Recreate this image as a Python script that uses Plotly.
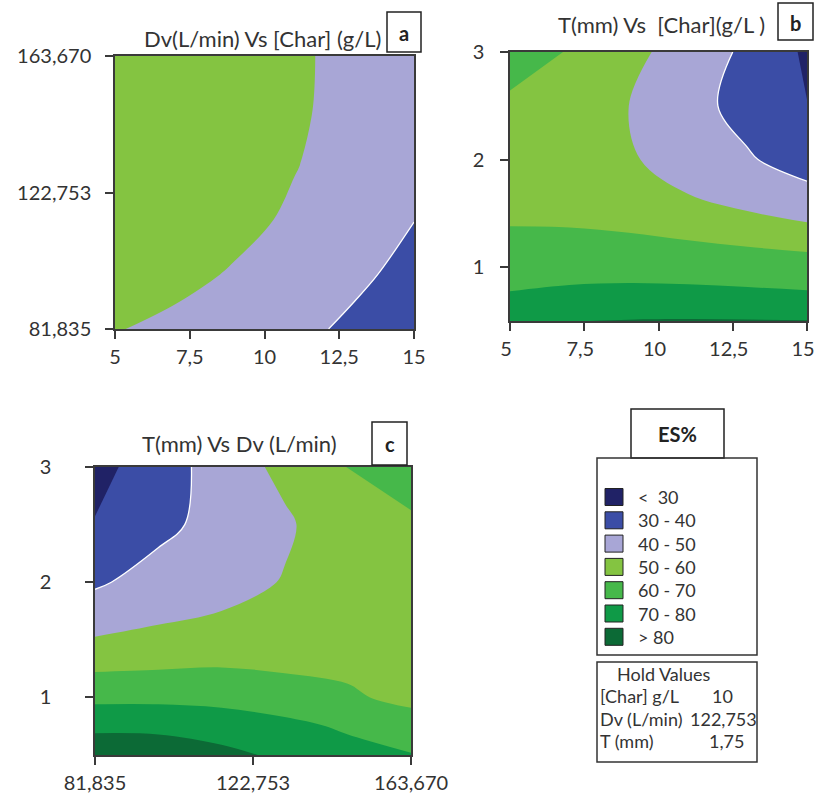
import plotly.graph_objects as go

W, H = 814, 796

# ---------------- data ----------------
char_vals = [5, 7, 9, 11, 13, 15]                                   # [Char] g/L
dv_vals = [81.835, 98.202, 114.569, 130.936, 147.303, 163.670]     # Dv L/min
t_vals = [0.5, 0.75, 1.0, 1.5, 2.0, 2.5, 3.0]                       # T mm

# (a) ES% : rows = Dv, cols = [Char]
es_a = [
    [50.5, 47.7, 45.0, 42.0, 38.5, 35.0],
    [56.6, 52.8, 49.1, 45.3, 41.5, 37.7],
    [57.0, 55.5, 52.8, 48.5, 44.2, 40.1],
    [58.0, 57.0, 54.5, 50.4, 46.0, 42.0],
    [58.0, 57.5, 55.0, 51.3, 47.0, 43.0],
    [58.0, 57.5, 55.2, 51.5, 47.2, 43.5],
]
# (b) ES% : rows = T, cols = [Char]
es_b = [
    [79.0, 79.8, 80.4, 80.6, 80.5, 80.3],
    [70.6, 71.5, 72.0, 72.0, 71.5, 70.8],
    [64.8, 67.1, 67.1, 66.5, 65.8, 65.1],
    [58.5, 57.5, 56.0, 53.5, 50.5, 47.0],
    [57.5, 56.0, 51.5, 43.8, 41.0, 35.3],
    [59.0, 56.0, 50.0, 43.5, 36.5, 30.2],
    [62.5, 59.7, 52.5, 46.0, 38.0, 28.5],
]
# (c) ES% : rows = T, cols = Dv
es_c = [
    [85.0, 84.0, 82.0, 78.5, 74.0, 70.3],
    [78.4, 78.4, 76.4, 73.0, 68.4, 66.55],
    [67.35, 67.35, 66.4, 63.6, 62.0, 56.3],
    [50.65, 52.0, 54.1, 55.0, 53.5, 55.0],
    [38.5, 44.3, 45.9, 50.6, 54.5, 56.0],
    [30.5, 37.1, 44.0, 48.5, 56.5, 59.0],
    [27.0, 35.0, 44.5, 52.5, 60.2, 63.0],
]

level_start, level_end, level_step = 30, 80, 10
band_labels = ["<  30", "30 - 40", "40 - 50", "50 - 60", "60 - 70", "70 - 80", "> 80"]
band_colors = ["#202266", "#3b4da6", "#a8a6d6", "#84c441", "#46b84a", "#0f9a47", "#0c6a36"]

char_ticks = [5, 7.5, 10, 12.5, 15]
char_ticktext = ["5", "7,5", "10", "12,5", "15"]
dv_ticks = [81.835, 122.753, 163.670]
dv_ticktext = ["81,835", "122,753", "163,670"]
t_ticks = [1, 2, 3]
t_ticktext = ["1", "2", "3"]

panel_titles = ["Dv(L/min) Vs [Char] (g/L)", "T(mm) Vs  [Char](g/L )", "T(mm) Vs Dv (L/min)"]
panel_tags = ["a", "b", "c"]
hold_names = ["[Char] g/L", "Dv (L/min)", "T (mm)"]
hold_values = ["10", "122,753", "1,75"]

# ---------------- helpers ----------------
def px(x):
    return x / W


def py(y):
    return 1 - y / H


n = len(band_colors)
colorscale = []
for k, c in enumerate(band_colors):
    lo = max(0.0, (2 * k - 1) / (2 * (n - 1)))
    hi = min(1.0, (2 * k + 1) / (2 * (n - 1)))
    colorscale.append([lo, c])
    colorscale.append([hi, c])

FONT = "Lato, Carlito, Calibri, sans-serif"
TXT = "#333333"


def fill_trace(x, y, z, xa, ya):
    return go.Contour(
        x=x, y=y, z=z, xaxis=xa, yaxis=ya,
        autocontour=False,
        contours=dict(start=level_start, end=level_end, size=level_step,
                      coloring="fill", showlines=False),
        colorscale=colorscale, zmin=level_start - level_step / 2,
        zmax=level_end + level_step / 2,
        showscale=False, line=dict(width=0, smoothing=1.0),
        hoverinfo="skip",
    )


def white_line(x, y, z, xa, ya):
    return go.Contour(
        x=x, y=y, z=z, xaxis=xa, yaxis=ya,
        autocontour=False,
        contours=dict(start=40, end=40, size=level_step, coloring="none"),
        showscale=False, line=dict(width=1.3, color="white", smoothing=1.0),
        hoverinfo="skip",
    )


fig = go.Figure()
fig.add_trace(fill_trace(char_vals, dv_vals, es_a, "x", "y"))
fig.add_trace(white_line(char_vals, dv_vals, es_a, "x", "y"))
fig.add_trace(fill_trace(char_vals, t_vals, es_b, "x2", "y2"))
fig.add_trace(white_line(char_vals, t_vals, es_b, "x2", "y2"))
fig.add_trace(fill_trace(dv_vals, t_vals, es_c, "x3", "y3"))
fig.add_trace(white_line(dv_vals, t_vals, es_c, "x3", "y3"))


def axis(domain, rng, tv, tt, anchor, standoff, shift=0):
    return dict(
        domain=domain, range=rng, tickvals=tv, ticktext=tt, anchor=anchor,
        showgrid=False, zeroline=False, showline=True, mirror=True,
        linecolor="#3a3a3a", linewidth=1.5, ticks="outside", ticklen=8,
        tickwidth=1.5, tickcolor="#3a3a3a", automargin=False,
        tickfont=dict(family=FONT, size=20, color=TXT),
        ticklabelstandoff=standoff, ticklabeloverflow="allow",
        ticklabelshift=shift,
    )


fig.update_layout(
    width=W, height=H, autosize=False,
    margin=dict(l=0, r=0, t=0, b=0, autoexpand=False),
    paper_bgcolor="white", plot_bgcolor="white",
    showlegend=False,
    xaxis=axis([px(115), px(414)], [5, 15], char_ticks, char_ticktext, "y", 1),
    yaxis=axis([py(329), py(56)], [dv_vals[0], dv_vals[-1]], dv_ticks, dv_ticktext, "x", 10),
    xaxis2=axis([px(510), px(807)], [5, 15], char_ticks, char_ticktext, "y2", 1, -4),
    yaxis2=axis([py(321), py(52)], [t_vals[0], t_vals[-1]], t_ticks, t_ticktext, "x2", 12),
    xaxis3=axis([px(95), px(411)], [dv_vals[0], dv_vals[-1]], dv_ticks, dv_ticktext, "y3", 1),
    yaxis3=axis([py(755), py(467)], [t_vals[0], t_vals[-1]], t_ticks, t_ticktext, "x3", 30),
)

shapes = []
annotations = []

# panel titles
title_pos = [(262, 38), (661, 25), (239, 443)]
for txt, (x, y) in zip(panel_titles, title_pos):
    annotations.append(dict(x=px(x), y=py(y), xref="paper", yref="paper", text=txt,
                            showarrow=False, xanchor="center", yanchor="middle",
                            font=dict(family=FONT, size=22, color=TXT)))

# panel tag boxes
tag_boxes = [(387, 12, 421, 52), (778, 3, 813, 40), (372, 422, 407, 465)]
for tag, (x0, y0, x1, y1) in zip(panel_tags, tag_boxes):
    shapes.append(dict(type="rect", xref="paper", yref="paper",
                       x0=px(x0), x1=px(x1), y0=py(y1), y1=py(y0),
                       line=dict(color="#222222", width=1.5), fillcolor="white"))
    annotations.append(dict(x=px((x0 + x1) / 2), y=py((y0 + y1) / 2 + 1), xref="paper", yref="paper",
                            text="<b>%s</b>" % tag, showarrow=False, xanchor="center",
                            yanchor="middle", font=dict(family=FONT, size=20, color="#222222")))

# legend: ES% header
shapes.append(dict(type="rect", xref="paper", yref="paper", x0=px(631), x1=px(724),
                   y0=py(458), y1=py(409), line=dict(color="#222222", width=1.5), fillcolor="white"))
annotations.append(dict(x=px(677), y=py(434), xref="paper", yref="paper", text="<b>ES%</b>",
                        showarrow=False, xanchor="center", yanchor="middle",
                        font=dict(family=FONT, size=20, color="#222222")))
# legend box
shapes.append(dict(type="rect", xref="paper", yref="paper", x0=px(597), x1=px(757),
                   y0=py(655), y1=py(458), line=dict(color="#333333", width=1.5)))
for i, (lab, col) in enumerate(zip(band_labels, band_colors)):
    yc = 497 + i * 23.3
    shapes.append(dict(type="rect", xref="paper", yref="paper", x0=px(605), x1=px(623),
                       y0=py(yc + 8.5), y1=py(yc - 8.5), line=dict(color="#222222", width=1),
                       fillcolor=col))
    annotations.append(dict(x=px(636), y=py(yc), xref="paper", yref="paper", text=lab,
                            showarrow=False, xanchor="left", yanchor="middle",
                            font=dict(family=FONT, size=18, color=TXT)))

# hold values box
shapes.append(dict(type="rect", xref="paper", yref="paper", x0=px(597), x1=px(757),
                   y0=py(762), y1=py(662), line=dict(color="#333333", width=1.5)))
annotations.append(dict(x=px(664), y=py(674), xref="paper", yref="paper", text="Hold Values",
                        showarrow=False, xanchor="center", yanchor="middle",
                        font=dict(family=FONT, size=18, color=TXT)))
hold_val_right = [735, 759, 746]
for i, (nm, vl) in enumerate(zip(hold_names, hold_values)):
    yc = 696 + i * 22.7
    annotations.append(dict(x=px(598), y=py(yc), xref="paper", yref="paper", text=nm,
                            showarrow=False, xanchor="left", yanchor="middle",
                            font=dict(family=FONT, size=18, color=TXT)))
    annotations.append(dict(x=px(hold_val_right[i]), y=py(yc), xref="paper", yref="paper", text=vl,
                            showarrow=False, xanchor="right", yanchor="middle",
                            font=dict(family=FONT, size=18, color=TXT)))

fig.update_layout(shapes=shapes, annotations=annotations)
fig.write_html(
    "out.html",
    config={"displayModeBar": False},
    post_script="document.body.style.margin='0';document.body.style.overflow='hidden';",
)
